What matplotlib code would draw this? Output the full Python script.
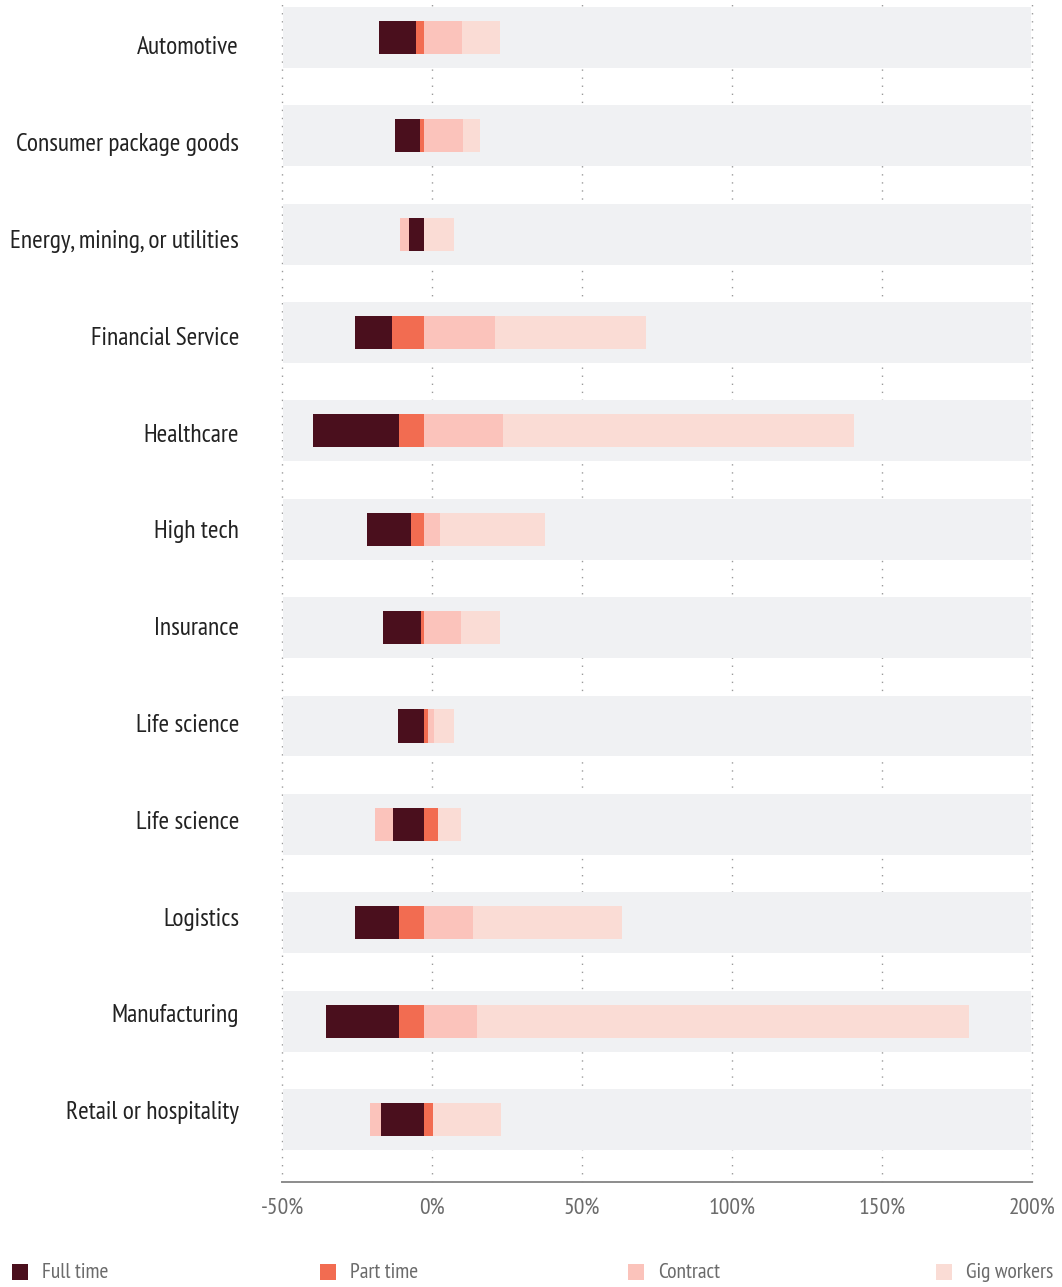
import matplotlib
matplotlib.use("Agg")
import matplotlib.pyplot as plt
from matplotlib.patches import Rectangle
import numpy as np

# Workforce change by industry (percent), by worker type
industries = [
    "Automotive", "Consumer package goods", "Energy, mining, or utilities",
    "Financial Service", "Healthcare", "High tech", "Insurance",
    "Life science", "Life science", "Logistics", "Manufacturing",
    "Retail or hospitality",
]
full_time = [-12.3, -8.3, -5.0, -12.3, -28.7, -14.7, -12.7, -8.7, -10.3, -14.7, -24.3, -14.3]
part_time = [-2.7, -1.3, 0.0, -10.7, -8.3, -4.3, -1.0, 1.3, 4.7, -8.3, -8.3, 3.0]
contract = [12.7, 13.0, -3.0, 23.7, 26.3, 5.3, 12.3, 2.0, -6.0, 16.3, 17.7, -3.7]
gig_workers = [12.7, 5.7, 10.0, 50.3, 117.0, 35.0, 13.3, 6.7, 7.7, 49.7, 164.0, 22.7]

series_names = ["Full time", "Part time", "Contract", "Gig workers"]
x_ticks = [-50, 0, 50, 100, 150, 200]
x_tick_labels = ["-50%", "0%", "50%", "100%", "150%", "200%"]

colors = {
    "Full time": "#4a0f1d",
    "Part time": "#f26c51",
    "Contract": "#fbc3bb",
    "Gig workers": "#fadcd5",
}
band_color = "#f0f1f3"
stack_base = -2.8

label_font = ["PT Sans Narrow", "DejaVu Sans"]

W, H = 1062, 1287
fig = plt.figure(figsize=(W / 100, H / 100), dpi=100)
ax = fig.add_axes([282 / W, (H - 1182) / H, 750 / W, 1182 / H])

n = len(industries)
y = np.arange(n)
ax.set_xlim(-50, 200)
ax.set_ylim(11.636, -0.381)

# dotted vertical grid
for xt in x_ticks:
    ax.axvline(xt, color="#9a9a9a", lw=1.0, ls=(0, (1, 4.8)), zorder=0, clip_on=False)

# gray row bands
band_h = 0.62
for yi in y:
    ax.add_patch(Rectangle((-49.7, yi - band_h / 2), 249.4, band_h,
                           facecolor=band_color, edgecolor="none", zorder=1))

# diverging stacks: positive values grow right, negative grow left
stack_order = ["Part time", "Full time", "Contract", "Gig workers"]
values = {
    "Full time": np.array(full_time),
    "Part time": np.array(part_time),
    "Contract": np.array(contract),
    "Gig workers": np.array(gig_workers),
}
pos = np.full(n, stack_base)
neg = np.full(n, stack_base)
bar_h = 0.336
for name in stack_order:
    v = values[name]
    left = np.where(v >= 0, pos, neg)
    ax.barh(y, v, left=left, height=bar_h, color=colors[name], linewidth=0, zorder=2)
    pos = np.where(v >= 0, pos + v, pos)
    neg = np.where(v < 0, neg + v, neg)

# axes styling
for s in ["top", "right", "left"]:
    ax.spines[s].set_visible(False)
ax.spines["bottom"].set_color("#8c8c8c")
ax.spines["bottom"].set_linewidth(1.4)
ax.set_xticks(x_ticks)
ax.set_xticklabels(x_tick_labels, family=label_font, fontsize=17, color="#6b6b6b")
ax.tick_params(axis="x", length=0, pad=12)

# category labels, spaced slightly tighter than the bands
ax.set_yticks([])
label_y = y * 0.9841 + 0.106
for ly, name in zip(label_y, industries):
    ax.text(-0.0573, ly, name, transform=ax.get_yaxis_transform(),
            family=label_font, fontsize=18.3, color="#222222",
            ha="right", va="center")

# legend row along the bottom
for i, name in enumerate(series_names):
    x0 = 12 + 308 * i
    fig.patches.append(Rectangle((x0 / W, (H - 1280) / H), 16 / W, 16 / H,
                                 transform=fig.transFigure, facecolor=colors[name],
                                 edgecolor="none"))
    fig.text((x0 + 30) / W, (H - 1273) / H, name, family=label_font, fontsize=15.5,
             color="#6b6b6b", va="center", ha="left")

fig.savefig("out.png", dpi=100)
